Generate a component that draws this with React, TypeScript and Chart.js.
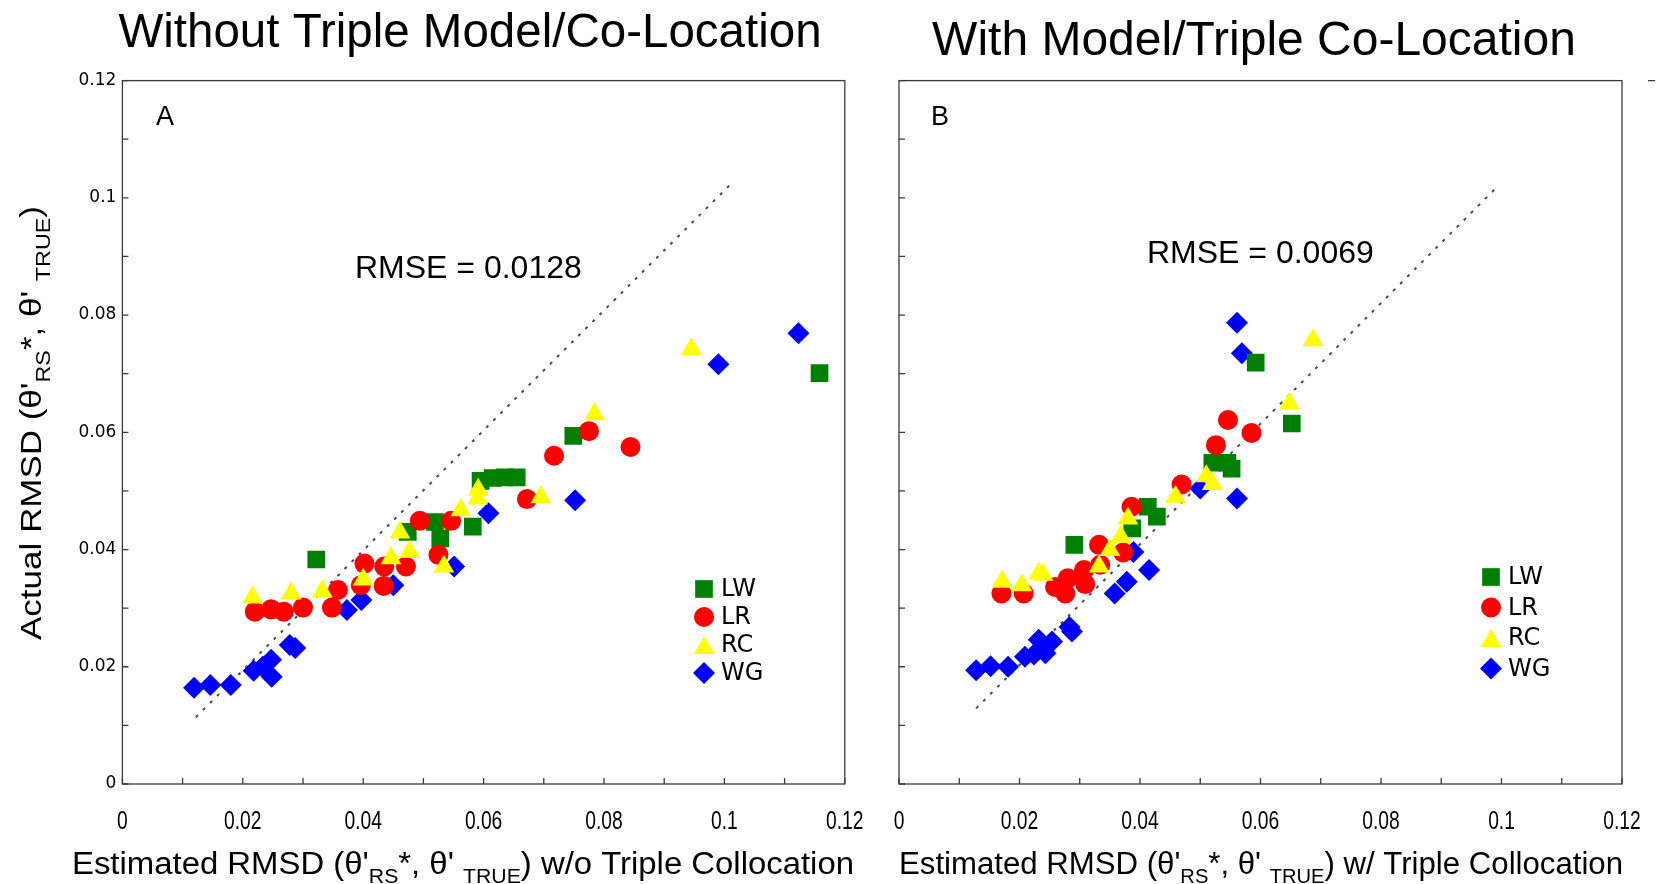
import React, { useEffect, useRef } from 'react';
import { Chart, registerables } from 'chart.js';

Chart.register(...registerables);

type Pt = [number, number];

// ---------- Panel A data (x = estimated RMSD w/o TC, y = actual RMSD) ----------
const LW_A: Pt[] = [
  [0.0322, 0.0383], [0.0474, 0.0430], [0.0519, 0.0447], [0.0528, 0.0419], [0.0582, 0.0439],
  [0.0595, 0.0517], [0.0615, 0.0522], [0.0635, 0.0523], [0.0655, 0.0523], [0.0749, 0.0594],
  [0.1158, 0.0701],
];
const LR_A: Pt[] = [
  [0.0220, 0.0294], [0.0247, 0.0298], [0.0268, 0.0294], [0.0300, 0.0301], [0.0348, 0.0301],
  [0.0358, 0.0331], [0.0396, 0.0339], [0.0402, 0.0376], [0.0434, 0.0338], [0.0435, 0.0371],
  [0.0471, 0.0371], [0.0494, 0.0449], [0.0525, 0.0391], [0.0546, 0.0449], [0.0672, 0.0486],
  [0.0717, 0.0560], [0.0775, 0.0602], [0.0844, 0.0575],
];
const RC_A: Pt[] = [
  [0.0216, 0.0318], [0.0280, 0.0325], [0.0332, 0.0329], [0.0400, 0.0349], [0.0446, 0.0385],
  [0.0461, 0.0429], [0.0477, 0.0396], [0.0534, 0.0371], [0.0562, 0.0467], [0.0590, 0.0487],
  [0.0591, 0.0502], [0.0695, 0.0489], [0.0784, 0.0631], [0.0945, 0.0742],
];
const WG_A: Pt[] = [
  [0.0119, 0.0164], [0.0146, 0.0169], [0.0180, 0.0169], [0.0218, 0.0193], [0.0233, 0.0200],
  [0.0247, 0.0212], [0.0248, 0.0183], [0.0278, 0.0237], [0.0287, 0.0232], [0.0373, 0.0297],
  [0.0397, 0.0314], [0.0450, 0.0339], [0.0551, 0.0371], [0.0608, 0.0462], [0.0752, 0.0484],
  [0.0990, 0.0716], [0.1123, 0.0769],
];
const FIT_A: Pt[] = [[0.0122, 0.0114], [0.1012, 0.1025]];

// ---------- Panel B data (x = estimated RMSD w/ TC) ----------
const LW_B: Pt[] = [
  [0.0291, 0.0408], [0.0387, 0.0436], [0.0413, 0.0473], [0.0428, 0.0456],
  [0.0520, 0.0548], [0.0545, 0.0548], [0.0552, 0.0538], [0.0592, 0.0719], [0.0652, 0.0615],
];
const LR_B: Pt[] = [
  [0.0170, 0.0325], [0.0207, 0.0325], [0.0259, 0.0336], [0.0276, 0.0325], [0.0280, 0.0351],
  [0.0307, 0.0365], [0.0309, 0.0341], [0.0334, 0.0374], [0.0332, 0.0408], [0.0372, 0.0395],
  [0.0386, 0.0473], [0.0469, 0.0511], [0.0526, 0.0578], [0.0546, 0.0621], [0.0585, 0.0599],
];
const RC_B: Pt[] = [
  [0.0171, 0.0345], [0.0204, 0.0339], [0.0232, 0.0359], [0.0239, 0.0357], [0.0332, 0.0371],
  [0.0350, 0.0399], [0.0368, 0.0422], [0.0380, 0.0453], [0.0459, 0.0490], [0.0510, 0.0525],
  [0.0520, 0.0512], [0.0648, 0.0649], [0.0687, 0.0757],
];
const WG_B: Pt[] = [
  [0.0128, 0.0194], [0.0152, 0.0201], [0.0181, 0.0200], [0.0209, 0.0217], [0.0224, 0.0221],
  [0.0232, 0.0246], [0.0243, 0.0223], [0.0254, 0.0243], [0.0283, 0.0268], [0.0287, 0.0260],
  [0.0358, 0.0325], [0.0378, 0.0345], [0.0389, 0.0396], [0.0415, 0.0365], [0.0500, 0.0504],
  [0.0561, 0.0487], [0.0561, 0.0787], [0.0569, 0.0735],
];
const FIT_B: Pt[] = [[0.0128, 0.0129], [0.0996, 0.1022]];

// ---------- Labels ----------
const SERIES_NAMES = ['LW', 'LR', 'RC', 'WG'];
const SERIES_COLORS = ['#008000', '#FF0000', '#FFFF00', '#0000FF'];
const SERIES_SHAPES = ['rect', 'circle', 'triangle', 'rectRot'];
const X_TICK_LABELS = ['0', '0.02', '0.04', '0.06', '0.08', '0.1', '0.12'];
const Y_TICK_LABELS = ['0', '0.02', '0.04', '0.06', '0.08', '0.1', '0.12'];
const AXIS_MIN = 0;
const AXIS_MAX = 0.12;
const MINOR_STEP = 0.01;
const TITLE_A = 'Without Triple Model/Co-Location';
const TITLE_B = 'With Model/Triple Co-Location';
const RMSE_A = 'RMSE = 0.0128';
const RMSE_B = 'RMSE = 0.0069';

type Seg = { t: string; sub?: boolean };
const X_TITLE_A: Seg[] = [
  { t: "Estimated RMSD (\u03B8'" }, { t: 'RS', sub: true }, { t: "*, \u03B8' " }, { t: 'TRUE', sub: true },
  { t: ') w/o Triple Collocation' },
];
const X_TITLE_B: Seg[] = [
  { t: "Estimated RMSD (\u03B8'" }, { t: 'RS', sub: true }, { t: "*, \u03B8' " }, { t: 'TRUE', sub: true },
  { t: ') w/ Triple Collocation' },
];
const Y_TITLE: Seg[] = [
  { t: "Actual RMSD (\u03B8'" }, { t: 'RS', sub: true }, { t: "*, \u03B8' " }, { t: 'TRUE', sub: true }, { t: ')' },
];

// ---------- Styling ----------
const RADII = [12.5, 10, 12, 11];
const DRAW_ORDER = [2, 1, 0, 3];
const AXIS_COLOR = '#3a3a3a';
const TICK_LEN = 6;
const SANS = '"Liberation Sans", Arial, sans-serif';
const NARROW = '"Liberation Sans Narrow", "Liberation Sans", Arial, sans-serif';

type Panel = {
  offset: number;
  width: number;
  series: Pt[][];
  fit: Pt[];
  plotLeft: number;
  plotRight: number;
  showY: boolean;
  title: string;
  titleSize: number;
  titleX: number;
  titleY: number;
  letter: string;
  letterX: number;
  rmse: string;
  rmseX: number;
  rmseY: number;
  xTitle: Seg[];
  xTitleX: number;
  xTitleW: number;
  legendX: number;
  legendY: number;
  legendStep: number;
  strayTick: boolean;
};

const PLOT_TOP = 80.6;
const PLOT_BOTTOM = 784;
const PAGE_H = 884;

const PANEL_A: Panel = {
  offset: 0, width: 870, series: [LW_A, LR_A, RC_A, WG_A], fit: FIT_A,
  plotLeft: 122.4, plotRight: 844.8, showY: true,
  title: TITLE_A, titleSize: 47.5, titleX: 470, titleY: 47,
  letter: 'A', letterX: 156,
  rmse: RMSE_A, rmseX: 355, rmseY: 278,
  xTitle: X_TITLE_A, xTitleX: 463, xTitleW: 782,
  legendX: 704, legendY: 589, legendStep: 28,
  strayTick: false,
};
const PANEL_B: Panel = {
  offset: 870, width: 788, series: [LW_B, LR_B, RC_B, WG_B], fit: FIT_B,
  plotLeft: 899, plotRight: 1622, showY: false,
  title: TITLE_B, titleSize: 48, titleX: 1254, titleY: 55,
  letter: 'B', letterX: 931,
  rmse: RMSE_B, rmseX: 1147, rmseY: 263,
  xTitle: X_TITLE_B, xTitleX: 1261, xTitleW: 724,
  legendX: 1491, legendY: 577, legendStep: 30.5,
  strayTick: true,
};

function drawRich(
  ctx: CanvasRenderingContext2D, segs: Seg[], cx: number, baseY: number,
  targetW: number, size: number, family: string, rotate: boolean,
) {
  ctx.save();
  const mainFont = `${size}px ${family}`;
  const subFont = `${Math.round(size * 0.66)}px ${family}`;
  const widths = segs.map((s) => {
    ctx.font = s.sub ? subFont : mainFont;
    return ctx.measureText(s.t).width;
  });
  const total = widths.reduce((a, b) => a + b, 0);
  ctx.translate(cx, baseY);
  if (rotate) ctx.rotate(-Math.PI / 2);
  ctx.scale(targetW / total, 1);
  ctx.fillStyle = '#000';
  ctx.textBaseline = 'alphabetic';
  ctx.textAlign = 'left';
  let x = -total / 2;
  segs.forEach((s, i) => {
    ctx.font = s.sub ? subFont : mainFont;
    ctx.fillText(s.t, x, s.sub ? size * 0.3 : 0);
    x += widths[i];
  });
  ctx.restore();
}

function drawShape(ctx: CanvasRenderingContext2D, style: string, x: number, y: number, r: number, color: string) {
  ctx.fillStyle = color;
  ctx.beginPath();
  if (style === 'rect') {
    const s = r * Math.SQRT1_2;
    ctx.rect(x - s, y - s, 2 * s, 2 * s);
  } else if (style === 'circle') {
    ctx.arc(x, y, r, 0, Math.PI * 2);
  } else if (style === 'triangle') {
    const yy = y + r / 4;
    ctx.moveTo(x, yy - r);
    ctx.lineTo(x + r * 0.866, yy + r / 2);
    ctx.lineTo(x - r * 0.866, yy + r / 2);
  } else {
    ctx.moveTo(x - r, y);
    ctx.lineTo(x, y - r);
    ctx.lineTo(x + r, y);
    ctx.lineTo(x, y + r);
  }
  ctx.closePath();
  ctx.fill();
}

function makeDecor(p: Panel) {
  const ox = p.offset;
  return {
    id: 'decor',
    beforeDatasetsDraw(chart: any) {
      const ctx: CanvasRenderingContext2D = chart.ctx;
      const { left, right, top, bottom } = chart.chartArea;
      ctx.save();
      ctx.strokeStyle = AXIS_COLOR;
      ctx.lineWidth = 1.3;
      ctx.strokeRect(left, top, right - left, bottom - top);
      const xs = chart.scales.x;
      const ys = chart.scales.y;
      ctx.beginPath();
      xs.ticks.forEach((t: any) => {
        const px = xs.getPixelForValue(t.value);
        ctx.moveTo(px, bottom);
        ctx.lineTo(px, bottom - TICK_LEN);
      });
      ys.ticks.forEach((t: any) => {
        const py = ys.getPixelForValue(t.value);
        ctx.moveTo(left, py);
        ctx.lineTo(left + TICK_LEN, py);
      });
      if (p.strayTick) {
        ctx.moveTo(right + 26, top);
        ctx.lineTo(right + 33, top);
      }
      ctx.stroke();
      // x tick labels (narrow, drawn from the scale's own ticks)
      ctx.fillStyle = '#000';
      ctx.font = `26px ${NARROW}`;
      ctx.textAlign = 'center';
      ctx.textBaseline = 'alphabetic';
      xs.ticks.forEach((t: any, i: number) => {
        if (i % 2 !== 0) return;
        const px = xs.getPixelForValue(t.value);
        ctx.save();
        ctx.translate(px, bottom + 45);
        ctx.scale(0.74, 1);
        ctx.fillText(X_TICK_LABELS[i / 2], 0, 0);
        ctx.restore();
      });
      ctx.restore();
    },
    afterDraw(chart: any) {
      const ctx: CanvasRenderingContext2D = chart.ctx;
      ctx.save();
      ctx.fillStyle = '#000';
      ctx.textBaseline = 'alphabetic';
      // title
      ctx.font = `${p.titleSize}px ${SANS}`;
      ctx.textAlign = 'center';
      ctx.fillText(p.title, p.titleX - ox, p.titleY);
      // panel letter
      ctx.font = `27px ${NARROW}`;
      ctx.textAlign = 'left';
      ctx.fillText(p.letter, p.letterX - ox, 125);
      // RMSE
      ctx.font = `32px ${SANS}`;
      ctx.fillText(p.rmse, p.rmseX - ox, p.rmseY);
      ctx.restore();
      // axis titles
      drawRich(ctx, p.xTitle, p.xTitleX - ox, 874, p.xTitleW, 31, NARROW, false);
      if (p.showY) drawRich(ctx, Y_TITLE, 41 - ox, 423, 434, 30, NARROW, true);
      // legend
      ctx.save();
      chart.data.datasets.forEach((ds: any, i: number) => {
        if (!ds.isSeries) return;
        const y = p.legendY + i * p.legendStep;
        drawShape(ctx, ds.pointStyle, p.legendX - ox, y, ds.pointRadius, ds.backgroundColor);
        ctx.fillStyle = '#000';
        ctx.font = `24px "DejaVu Sans", Verdana, sans-serif`;
        ctx.textAlign = 'left';
        ctx.textBaseline = 'middle';
        ctx.fillText(ds.label, p.legendX - ox + 17, y + 1);
      });
      ctx.restore();
    },
  };
}

function buildChart(canvas: HTMLCanvasElement, p: Panel) {
  const datasets: any[] = p.series.map((pts, i) => ({
    type: 'scatter',
    label: SERIES_NAMES[i],
    isSeries: true,
    data: pts.map(([x, y]) => ({ x, y })),
    pointStyle: SERIES_SHAPES[i],
    pointRadius: RADII[i],
    pointHoverRadius: RADII[i],
    backgroundColor: SERIES_COLORS[i],
    borderWidth: 0,
    order: DRAW_ORDER[i],
  }));
  datasets.push({
    type: 'line',
    label: 'fit',
    data: p.fit.map(([x, y]) => ({ x, y })),
    borderColor: '#4a4a4a',
    borderWidth: 2,
    borderDash: [3, 7],
    pointRadius: 0,
    fill: false,
    order: 10,
  });
  const plotLeftLocal = p.plotLeft - p.offset;
  const rightPad = p.width - (p.plotRight - p.offset);
  const xAxisH = 60;
  return new Chart(canvas, {
    type: 'scatter',
    data: { datasets },
    options: {
      animation: false,
      responsive: false,
      events: [],
      layout: {
        padding: { left: 0, top: PLOT_TOP, right: rightPad, bottom: PAGE_H - PLOT_BOTTOM - xAxisH },
      },
      plugins: { legend: { display: false }, tooltip: { enabled: false }, title: { display: false } },
      scales: {
        x: {
          type: 'linear',
          min: AXIS_MIN,
          max: AXIS_MAX,
          grid: { display: false, drawTicks: false },
          border: { display: false },
          ticks: {
            display: false,
            stepSize: MINOR_STEP,
            maxTicksLimit: 20,
            autoSkip: false,
            maxRotation: 0,
            padding: 0,
          },
          afterFit: (s: any) => { s.height = xAxisH; s.paddingLeft = 0; s.paddingRight = 0; },
        },
        y: {
          type: 'linear',
          min: AXIS_MIN,
          max: AXIS_MAX,
          grid: { display: false, drawTicks: true, tickLength: 6 },
          border: { display: false },
          ticks: {
            display: p.showY,
            stepSize: MINOR_STEP,
            maxTicksLimit: 20,
            autoSkip: false,
            padding: 0,
            color: '#000',
            font: { family: '"DejaVu Sans", Verdana, sans-serif', size: 17 },
            callback: (_v: any, idx: number) => (idx % 2 === 0 ? Y_TICK_LABELS[idx / 2] : ''),
          },
          afterFit: (s: any) => { s.width = plotLeftLocal; s.paddingTop = 0; s.paddingBottom = 0; },
        },
      },
    } as any,
    plugins: [makeDecor(p)],
  });
}

export default function App() {
  const refA = useRef<HTMLCanvasElement>(null);
  const refB = useRef<HTMLCanvasElement>(null);
  useEffect(() => {
    const charts = [buildChart(refA.current!, PANEL_A), buildChart(refB.current!, PANEL_B)];
    return () => charts.forEach((c) => c.destroy());
  }, []);
  return (
    <div style={{ position: 'fixed', left: 0, top: 0, width: 1658, height: 884, background: '#fff' }}>
      <canvas ref={refA} width={PANEL_A.width} height={PAGE_H}
        style={{ position: 'absolute', left: PANEL_A.offset, top: 0, width: PANEL_A.width, height: PAGE_H }} />
      <canvas ref={refB} width={PANEL_B.width} height={PAGE_H}
        style={{ position: 'absolute', left: PANEL_B.offset, top: 0, width: PANEL_B.width, height: PAGE_H }} />
    </div>
  );
}
